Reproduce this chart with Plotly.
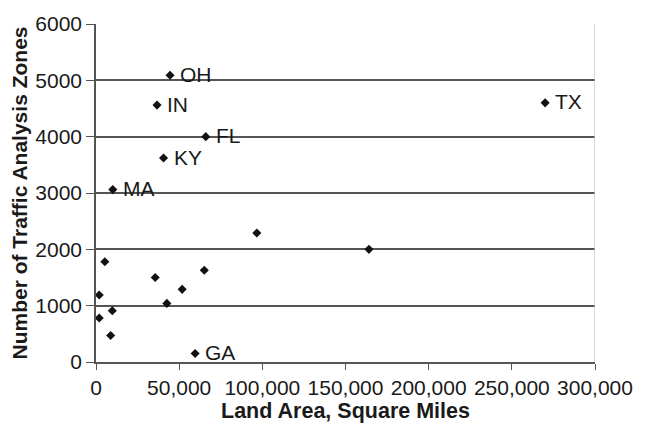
import plotly.graph_objects as go

# Land area (sq mi) and number of traffic analysis zones
land_area = [44500, 36700, 66000, 40600, 10100, 270000, 96700, 164100,
             5300, 65100, 35600, 51800, 42600, 1950, 9800, 1950, 8800, 59600]
zones = [5090, 4560, 4000, 3620, 3060, 4600, 2290, 2000,
         1780, 1630, 1500, 1290, 1040, 1190, 910, 780, 470, 150]
labels = ["OH", "IN", "FL", "KY", "MA", "TX", "", "",
          "", "", "", "", "", "", "", "", "", "GA"]

x_ticks = [0, 50000, 100000, 150000, 200000, 250000, 300000]
y_ticks = [0, 1000, 2000, 3000, 4000, 5000, 6000]

FONT = "Liberation Sans, Arial, sans-serif"
DARK = "#555555"

fig = go.Figure()
fig.add_trace(go.Scatter(
    x=land_area, y=zones,
    mode="markers",
    marker=dict(symbol="diamond", size=7, color="#111111"),
    showlegend=False,
    cliponaxis=False,
))

for xv, yv, lab in zip(land_area, zones, labels):
    if lab:
        fig.add_annotation(x=xv, y=yv, text=lab, showarrow=False,
                           xanchor="left", yanchor="middle", xshift=8, yshift=1,
                           font=dict(family=FONT, size=21, color="#1a1a1a"))

fig.add_shape(type="line", xref="x", yref="paper", x0=300000, x1=300000,
              y0=0, y1=1, line=dict(color="#c4c4c4", width=1.2))

fig.update_layout(
    width=645, height=431,
    margin=dict(l=96, r=38, t=17, b=57),
    paper_bgcolor="white", plot_bgcolor="white",
    font=dict(family=FONT, size=21, color="#1a1a1a"),
    xaxis=dict(
        range=[0, 300000], tickvals=x_ticks, tickformat=",",
        showgrid=False, zeroline=False,
        showline=True, linecolor=DARK, linewidth=1.5,
        ticks="outside", ticklen=6, tickcolor=DARK, tickwidth=1.2,
        tickfont=dict(size=21),
        title=dict(text="<b>Land Area, Square Miles</b>",
                   font=dict(size=21.5), standoff=5),
    ),
    yaxis=dict(
        range=[0, 6000], tickvals=y_ticks,
        showgrid=True, gridcolor=DARK, gridwidth=1.6,
        zeroline=False,
        showline=True, linecolor=DARK, linewidth=1.5,
        ticks="outside", ticklen=8, tickcolor=DARK, tickwidth=1.2,
        tickfont=dict(size=21),
        title=dict(text="<b>Number of Traffic Analysis Zones</b>",
                   font=dict(size=21), standoff=2),
    ),
)

fig.write_html("out.html")
